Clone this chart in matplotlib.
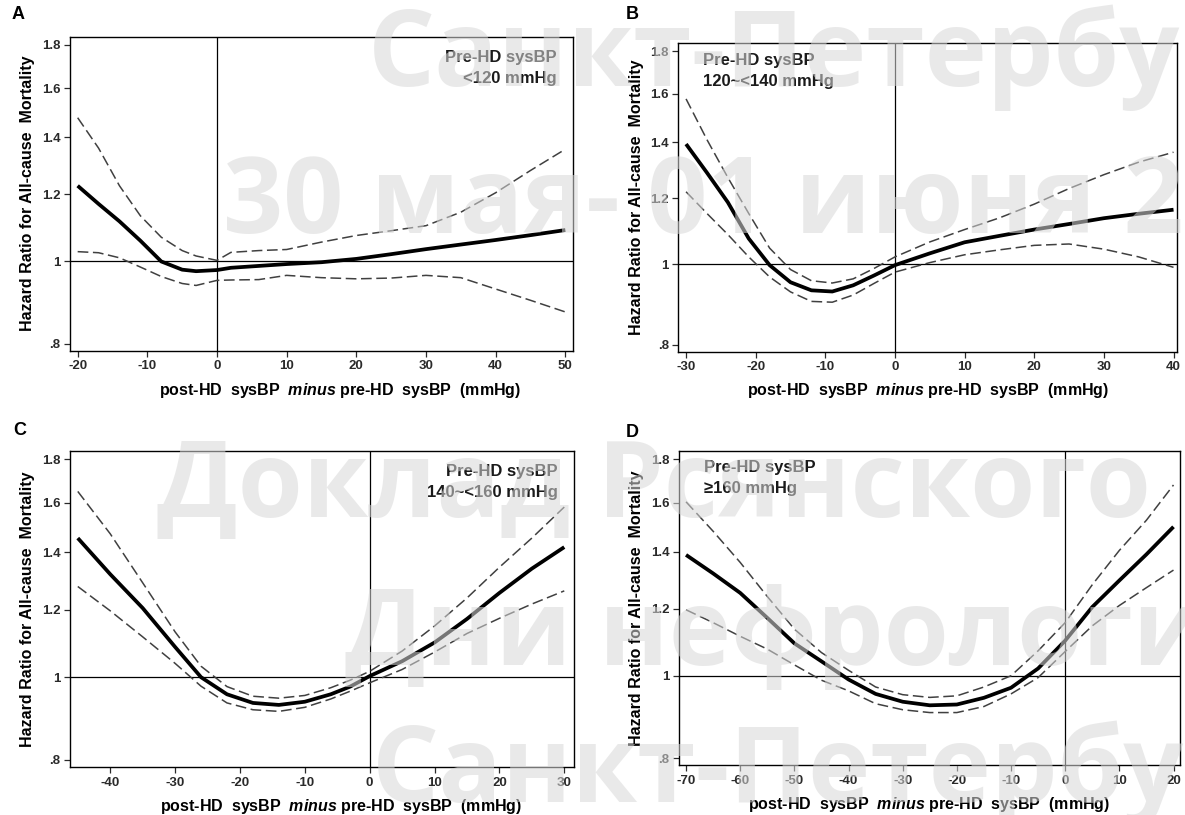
import matplotlib
matplotlib.use('Agg')
import matplotlib.pyplot as plt
from matplotlib.ticker import NullLocator

plt.rcParams['font.family'] = ['Liberation Sans', 'DejaVu Sans']
plt.rcParams['mathtext.fontset'] = 'custom'
plt.rcParams['mathtext.it'] = 'Liberation Sans:italic:bold'
plt.rcParams['mathtext.rm'] = 'Liberation Sans:bold'

# A: pre-HD sysBP < 120 mmHg
a_x = [-20, -17, -14, -11, -8, -5, -3, 0, 2, 6, 10, 15, 20, 25, 30, 35, 40, 45, 50]
a_hr = [1.228, 1.169, 1.115, 1.058, 1.0, 0.978, 0.974, 0.977, 0.983, 0.988, 0.993, 0.998, 1.007, 1.02, 1.034, 1.047, 1.06, 1.074, 1.089]
a_upper = [1.477, 1.36, 1.228, 1.132, 1.068, 1.03, 1.015, 1.003, 1.025, 1.03, 1.033, 1.054, 1.073, 1.087, 1.102, 1.143, 1.205, 1.28, 1.356]
a_lower = [1.027, 1.024, 1.01, 0.985, 0.96, 0.942, 0.937, 0.95, 0.951, 0.952, 0.963, 0.957, 0.954, 0.956, 0.963, 0.957, 0.928, 0.9, 0.872]

# B: 120~<140 mmHg
b_x = [-30, -27, -24, -21, -18, -15, -12, -9, -6, -3, 0, 5, 10, 15, 20, 25, 30, 35, 40]
b_hr = [1.393, 1.287, 1.186, 1.073, 0.997, 0.951, 0.93, 0.927, 0.943, 0.969, 0.997, 1.03, 1.062, 1.081, 1.1, 1.117, 1.135, 1.149, 1.162]
b_upper = [1.578, 1.41, 1.27, 1.15, 1.045, 0.985, 0.955, 0.949, 0.96, 0.988, 1.02, 1.063, 1.1, 1.136, 1.18, 1.232, 1.28, 1.325, 1.362]
b_lower = [1.221, 1.15, 1.085, 1.02, 0.965, 0.926, 0.902, 0.9, 0.918, 0.948, 0.978, 1.004, 1.026, 1.04, 1.053, 1.057, 1.042, 1.02, 0.991]

# C: 140~<160 mmHg
c_x = [-45, -40, -35, -30, -26, -22, -18, -14, -10, -6, -3, 0, 5, 10, 15, 20, 25, 30]
c_hr = [1.455, 1.32, 1.205, 1.085, 1.0, 0.955, 0.933, 0.928, 0.936, 0.955, 0.975, 1.003, 1.044, 1.098, 1.17, 1.255, 1.34, 1.42]
c_upper = [1.65, 1.472, 1.29, 1.13, 1.03, 0.975, 0.95, 0.945, 0.952, 0.972, 0.992, 1.016, 1.073, 1.148, 1.238, 1.345, 1.455, 1.582]
c_lower = [1.277, 1.196, 1.115, 1.038, 0.976, 0.933, 0.916, 0.912, 0.922, 0.943, 0.963, 0.985, 1.021, 1.07, 1.125, 1.172, 1.218, 1.262]

# D: >=160 mmHg
d_x = [-70, -65, -60, -55, -50, -45, -40, -35, -30, -25, -20, -15, -10, -5, 0, 5, 10, 15, 20]
d_hr = [1.388, 1.32, 1.252, 1.17, 1.092, 1.04, 0.99, 0.952, 0.932, 0.923, 0.925, 0.942, 0.968, 1.02, 1.1, 1.205, 1.295, 1.39, 1.498]
d_upper = [1.603, 1.48, 1.36, 1.24, 1.135, 1.065, 1.015, 0.97, 0.95, 0.943, 0.947, 0.97, 1.0, 1.07, 1.155, 1.28, 1.405, 1.525, 1.678]
d_lower = [1.196, 1.155, 1.113, 1.075, 1.03, 0.988, 0.96, 0.927, 0.912, 0.905, 0.905, 0.92, 0.952, 0.995, 1.068, 1.145, 1.21, 1.27, 1.332]

y_ticks = [0.8, 1, 1.2, 1.4, 1.6, 1.8]
y_tick_labels = ['.8', '1', '1.2', '1.4', '1.6', '1.8']

xlabel = r'post-HD  sysBP  $minus$ pre-HD  sysBP  (mmHg)'
ylabel = 'Hazard Ratio for All-cause  Mortality'

watermark = [
    ('Санкт-Петербург', 368, 86),
    ('30 мая- 01 июня 20', 223, 233),
    ('Доклад Рсянского', 157, 517),
    ('Дни нефрологии', 345, 665),
    ('Санкт-Петербург', 372, 802),
]


def draw_panel(ax, x, hr, upper, lower, xlim, xticks, note, note_right, xlab_x):
    ax.set_yscale('log')
    ax.axhline(1, color='black', lw=0.9, zorder=1)
    ax.axvline(0, color='black', lw=0.9, zorder=1)
    ax.plot(x, upper, color='#404040', lw=1.1, dashes=(7, 3), zorder=2)
    ax.plot(x, lower, color='#404040', lw=1.1, dashes=(7, 3), zorder=2)
    ax.plot(x, hr, color='black', lw=2.7, solid_capstyle='butt', zorder=3)
    ax.set_xlim(xlim)
    ax.set_ylim(0.785, 1.84)
    ax.set_xticks(xticks)
    ax.set_xticklabels([str(t) for t in xticks], fontweight='bold')
    ax.set_yticks(y_ticks)
    ax.set_yticklabels(y_tick_labels, fontweight='bold')
    ax.yaxis.set_minor_locator(NullLocator())
    ax.tick_params(direction='out', length=4, width=0.9, labelsize=9.5, colors='#2a2a2a', pad=3)
    for s in ax.spines.values():
        s.set_linewidth(1.0)
    ax.set_xlabel(xlabel, fontsize=11.5, fontweight='bold', va='top')
    ax.xaxis.set_label_coords(xlab_x, -0.095)
    ax.set_ylabel(ylabel, fontsize=11.5, fontweight='bold', va='center')
    ax.yaxis.set_label_coords(-0.085, 0.5)
    if note_right:
        ax.text(0.968, 0.958, note, transform=ax.transAxes, ha='right', va='top',
                fontsize=12, fontweight='bold', linespacing=1.5, color='#1a1a1a')
    else:
        ax.text(0.05, 0.97, note, transform=ax.transAxes, ha='left', va='top',
                fontsize=12, fontweight='bold', linespacing=1.5, color='#1a1a1a')


fig = plt.figure(figsize=(11.85, 8.15), dpi=100)
W, H = 1185, 815

ax_a = fig.add_axes([70 / W, 1 - 350.7 / H, 503 / W, 314 / H])
ax_b = fig.add_axes([678.4 / W, 1 - 351.7 / H, 498.6 / W, 308.4 / H])
ax_c = fig.add_axes([70 / W, 1 - 767 / H, 504 / W, 316 / H])
ax_d = fig.add_axes([679 / W, 1 - 765 / H, 501 / W, 314 / H])

draw_panel(ax_a, a_x, a_hr, a_upper, a_lower, (-21.1, 51.1), [-20, -10, 0, 10, 20, 30, 40, 50],
           'Pre-HD sysBP\n<120 mmHg', True, 0.537)
draw_panel(ax_b, b_x, b_hr, b_upper, b_lower, (-31.1, 40.5), [-30, -20, -10, 0, 10, 20, 30, 40],
           'Pre-HD sysBP\n120~<140 mmHg', False, 0.5)
draw_panel(ax_c, c_x, c_hr, c_upper, c_lower, (-46.2, 31.5), [-40, -30, -20, -10, 0, 10, 20, 30],
           'Pre-HD sysBP\n140~<160 mmHg', True, 0.537)
draw_panel(ax_d, d_x, d_hr, d_upper, d_lower, (-71.3, 21.2), [-70, -60, -50, -40, -30, -20, -10, 0, 10, 20],
           'Pre-HD sysBP\n≥160 mmHg', False, 0.5)

# буквы панелей
for letter, px, py in [('A', 12, 6), ('B', 626, 6), ('C', 13, 422), ('D', 626, 424)]:
    fig.text(px / W, 1 - py / H, letter, fontsize=13, fontweight='bold', va='top', ha='left')

# водяной знак поверх графиков, светлый и полупрозрачный
for text, px, py in watermark:
    fig.text(px / W, 1 - py / H, text, fontsize=76, fontweight='bold', family=['Open Sans', 'DejaVu Sans'],
             color='#d8d8d8', alpha=0.55, ha='left', va='baseline', zorder=10)

fig.savefig('out.png', dpi=100)
